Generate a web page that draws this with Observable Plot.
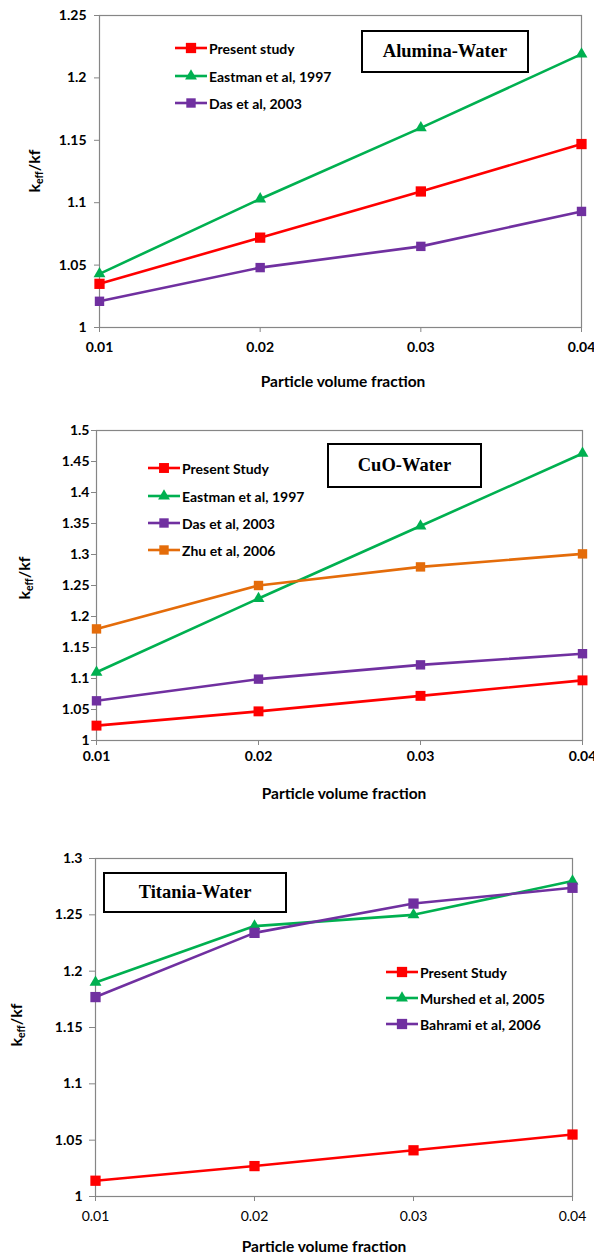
<!DOCTYPE html>
<html><head><meta charset="utf-8">
<script src="https://cdn.jsdelivr.net/npm/d3@7"></script>
<script src="https://cdn.jsdelivr.net/npm/@observablehq/plot@0.6"></script>
<style>
body{margin:0;background:#fff;width:594px;}
.panel{position:relative;width:594px;}
.panel svg{display:block;}
.tbox{position:absolute;border:2px solid #000;background:#fff;font-family:"Liberation Serif","Times New Roman",serif;font-weight:bold;font-size:18.5px;display:flex;align-items:center;justify-content:center;box-sizing:border-box;color:#000;}
.legend{position:absolute;font-family:Lato,"Open Sans",sans-serif;font-weight:bold;font-size:14px;color:#000;}
.legend .row{position:absolute;left:0;display:flex;align-items:center;white-space:nowrap;height:20px;transform:translateY(-10px);}
.legend .row svg{display:block;}
.legend .row span{margin-left:2px;}
</style></head><body><div id="chart"></div>
<script>
// ---- data ----
const xFractions = [0.01, 0.02, 0.03, 0.04];
const xTickLabels = ["0.01", "0.02", "0.03", "0.04"];

const aluminaYTicks = [1, 1.05, 1.1, 1.15, 1.2, 1.25];
const aluminaPresent = [1.035, 1.072, 1.109, 1.147];
const aluminaEastman = [1.043, 1.103, 1.160, 1.219];
const aluminaDas = [1.021, 1.048, 1.065, 1.093];

const cuoYTicks = [1, 1.05, 1.1, 1.15, 1.2, 1.25, 1.3, 1.35, 1.4, 1.45, 1.5];
const cuoPresent = [1.024, 1.047, 1.072, 1.097];
const cuoEastman = [1.110, 1.229, 1.346, 1.463];
const cuoDas = [1.064, 1.099, 1.122, 1.140];
const cuoZhu = [1.180, 1.250, 1.280, 1.301];

const titaniaYTicks = [1, 1.05, 1.1, 1.15, 1.2, 1.25, 1.3];
const titaniaPresent = [1.014, 1.027, 1.041, 1.055];
const titaniaMurshed = [1.190, 1.240, 1.250, 1.280];
const titaniaBahrami = [1.177, 1.234, 1.260, 1.274];

const RED = "#ff0000", GREEN = "#00b050", PURPLE = "#7030a0", ORANGE = "#e46c0a";

function rows(values, name) {
  return xFractions.map((x, i) => ({x, y: values[i], name}));
}

const panels = [
  {
    height: 410, mt: 15, mb: 83, ml: 99, mr: 13,
    yDomain: [1, 1.25], yTicks: aluminaYTicks,
    yTickSize: 5, yTickPad: 8, xTickPad: 10, xBold: true,
    series: [
      {name: "Present study", values: aluminaPresent, color: RED, symbol: "square", r: 5.8},
      {name: "Eastman et al, 1997", values: aluminaEastman, color: GREEN, symbol: "triangle", r: 4.4},
      {name: "Das et al, 2003", values: aluminaDas, color: PURPLE, symbol: "square", r: 5.3}
    ],
    title: "Alumina-Water", box: {left: 361, top: 30, width: 168, height: 43},
    legend: {left: 175, rows: [48, 76, 103]},
    yLabel: {x: 40, y: 171}, xLabel: {x: 343, y: 383}
  },
  {
    height: 410, mt: 20, mb: 80, ml: 96, mr: 12,
    yDomain: [1, 1.5], yTicks: cuoYTicks,
    yTickSize: 5, yTickPad: 2, xTickPad: 6, xBold: true,
    series: [
      {name: "Present Study", values: cuoPresent, color: RED, symbol: "square", r: 5.6},
      {name: "Eastman et al, 1997", values: cuoEastman, color: GREEN, symbol: "triangle", r: 4.4},
      {name: "Das et al, 2003", values: cuoDas, color: PURPLE, symbol: "square", r: 5.3},
      {name: "Zhu et al, 2006", values: cuoZhu, color: ORANGE, symbol: "square", r: 5.3}
    ],
    title: "CuO-Water", box: {left: 327, top: 33, width: 155, height: 45},
    legend: {left: 148, rows: [58, 86, 113, 140]},
    yLabel: {x: 30, y: 168}, xLabel: {x: 344, y: 385}
  },
  {
    height: 439, mt: 38, mb: 63, ml: 95, mr: 22,
    yDomain: [1, 1.3], yTicks: titaniaYTicks,
    yTickSize: 6, yTickPad: 7, xTickPad: 10, xBold: false,
    series: [
      {name: "Present Study", values: titaniaPresent, color: RED, symbol: "square", r: 5.8},
      {name: "Murshed et al, 2005", values: titaniaMurshed, color: GREEN, symbol: "triangle", r: 4.4},
      {name: "Bahrami et al, 2006", values: titaniaBahrami, color: PURPLE, symbol: "square", r: 5.8}
    ],
    title: "Titania-Water", box: {left: 103, top: 52, width: 184, height: 41},
    legend: {left: 386, rows: [152, 178, 204]},
    yLabel: {x: 22, y: 205}, xLabel: {x: 324, y: 428}
  }
];

const root = document.getElementById("chart");
const fmtY = d => String(+d.toFixed(2));
const FONT = "Lato, 'Open Sans', sans-serif";

for (const p of panels) {
  const div = document.createElement("div");
  div.className = "panel";
  div.style.height = p.height + "px";
  root.appendChild(div);

  const marks = [
    Plot.frame({stroke: "#868686", strokeWidth: 1.2}),
    Plot.axisY({ticks: p.yTicks, tickFormat: fmtY, tickSize: p.yTickSize, tickPadding: p.yTickPad,
      stroke: "#868686", fill: "#000", fontWeight: "bold", fontSize: 14, label: null}),
    Plot.axisX({ticks: xFractions, tickFormat: d => xTickLabels[xFractions.indexOf(d)],
      tickSize: 5, tickPadding: p.xTickPad, stroke: "#868686", fill: "#000",
      fontWeight: p.xBold ? "bold" : "normal", fontSize: 14, label: null})
  ];
  for (const s of p.series) {
    marks.push(Plot.line(rows(s.values, s.name), {x: "x", y: "y", stroke: s.color, strokeWidth: 2.6}));
  }
  for (const s of p.series) {
    marks.push(Plot.dot(rows(s.values, s.name), {x: "x", y: "y", symbol: s.symbol, r: s.r, fill: s.color, stroke: "none"}));
  }

  const svg = Plot.plot({
    width: 594, height: p.height,
    marginTop: p.mt, marginBottom: p.mb, marginLeft: p.ml, marginRight: p.mr,
    style: {fontFamily: FONT, background: "#fff", overflow: "visible"},
    x: {domain: [0.01, 0.04]},
    y: {domain: p.yDomain},
    marks
  });
  div.appendChild(svg);

  const s = d3.select(svg);
  const yl = s.append("text")
    .attr("transform", `translate(${p.yLabel.x},${p.yLabel.y}) rotate(-90)`)
    .attr("text-anchor", "middle")
    .attr("font-family", FONT)
    .attr("font-weight", "bold").attr("font-size", 16).attr("fill", "#000");
  yl.append("tspan").text("k");
  yl.append("tspan").attr("font-size", 10.5).attr("dy", 3).text("eff");
  yl.append("tspan").attr("dy", -3).text("/kf");

  s.append("text")
    .attr("x", p.xLabel.x).attr("y", p.xLabel.y)
    .attr("text-anchor", "middle").attr("dominant-baseline", "middle")
    .attr("font-family", FONT)
    .attr("font-weight", "bold").attr("font-size", 15.5).attr("fill", "#000")
    .text("Particle volume fraction");

  const box = document.createElement("div");
  box.className = "tbox";
  Object.assign(box.style, {left: p.box.left + "px", top: p.box.top + "px", width: p.box.width + "px", height: p.box.height + "px"});
  box.textContent = p.title;
  div.appendChild(box);

  const lg = document.createElement("div");
  lg.className = "legend";
  lg.style.left = p.legend.left + "px";
  lg.style.top = "0px";
  div.appendChild(lg);
  p.series.forEach((ser, i) => {
    const row = document.createElement("div");
    row.className = "row";
    row.style.top = p.legend.rows[i] + "px";
    lg.appendChild(row);
    const sw = d3.create("svg").attr("width", 32).attr("height", 14);
    sw.append("line").attr("x1", 0).attr("x2", 32).attr("y1", 7).attr("y2", 7)
      .attr("stroke", ser.color).attr("stroke-width", 2.6);
    const sym = ser.symbol === "triangle" ? d3.symbolTriangle : d3.symbolSquare;
    sw.append("path").attr("transform", "translate(16,7)")
      .attr("d", d3.symbol(sym, Math.PI * ser.r * ser.r)())
      .attr("fill", ser.color);
    row.appendChild(sw.node());
    const t = document.createElement("span");
    t.textContent = ser.name;
    row.appendChild(t);
  });
}
</script></body></html>
